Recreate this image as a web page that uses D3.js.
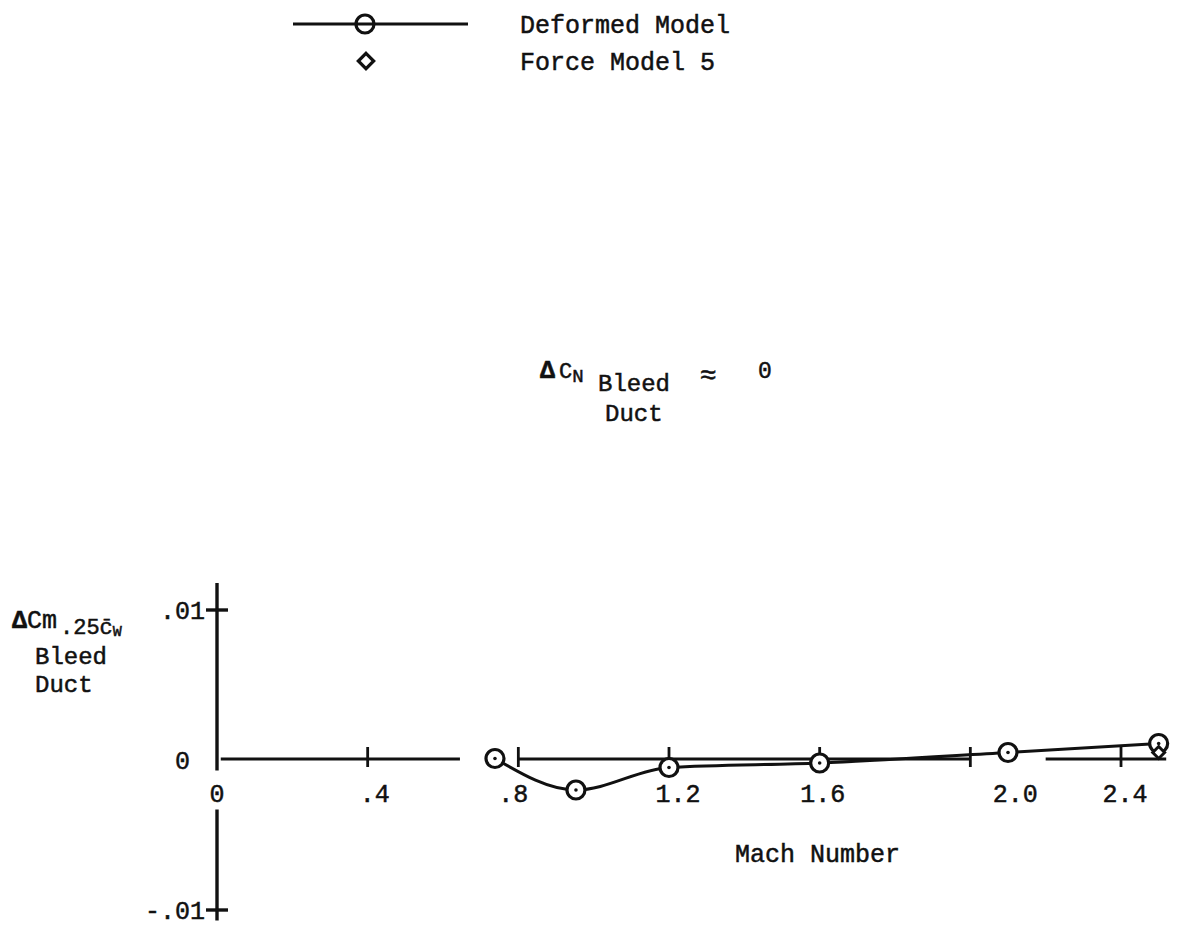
<!DOCTYPE html>
<html><head><meta charset="utf-8">
<script src="https://cdn.jsdelivr.net/npm/d3@7"></script>
<style>
body{margin:0;background:#fff}
text{font-family:"Liberation Mono","DejaVu Sans Mono",monospace;fill:#111;stroke:#111;stroke-width:0.5}
</style>
</head><body>
<svg id="c" width="1177" height="936"></svg>
<script>
// ---- data ----
const machDeformed = [0.738, 0.953, 1.20, 1.60, 2.10, 2.50];
const cmDeformed   = [0.0001, -0.0020, -0.0005, -0.0002, 0.0005, 0.0011];
const machForce5   = [2.50];
const cmForce5     = [0.0005];
const xTickValues  = [0, 0.4, 0.8, 1.2, 1.6, 2.0, 2.4];
const xTickLabels  = ["0", ".4", ".8", "1.2", "1.6", "2.0", "2.4"];
const yTickValues  = [0.01, 0, -0.01];
const yTickLabels  = [".01", "0", "-.01"];
const seriesNames  = ["Deformed Model", "Force Model 5"];

// ---- layout ----
const svg = d3.select("#c");
const x = d3.scaleLinear().domain([0, 2.4]).range([217, 1121]);
const y = d3.scaleLinear().domain([-0.01, 0.01]).range([910, 610]);
const ink = "#111";
const labelShift = [0, 7, -5, 9, 3, 45, 4];

// y axis (drawn in two pieces around the "0" label)
const yAxisPieces = [[0.0118, -0.0007], [-0.0033, -0.0107]];
svg.selectAll(".yax").data(yAxisPieces).join("line")
  .attr("x1", x(0)).attr("x2", x(0))
  .attr("y1", d => y(d[0])).attr("y2", d => y(d[1]))
  .attr("stroke", ink).attr("stroke-width", 3.4);
svg.selectAll(".ytk").data(yTickValues.filter(v => v !== 0)).join("line")
  .attr("x1", x(0) - 11).attr("x2", x(0) + 11)
  .attr("y1", d => y(d)).attr("y2", d => y(d))
  .attr("stroke", ink).attr("stroke-width", 3.4);
svg.selectAll(".ytl").data(yTickValues).join("text")
  .attr("x", d => d === 0 ? 190 : 205)
  .attr("y", d => y(d) + 9)
  .attr("text-anchor", "end")
  .attr("font-size", 25)
  .text((d, i) => yTickLabels[i]);

// x axis pieces
const xAxisPieces = [[0.01, 0.645], [0.8, 2.0], [2.2, 2.52]];
svg.selectAll(".xax").data(xAxisPieces).join("line")
  .attr("x1", d => x(d[0])).attr("x2", d => x(d[1]))
  .attr("y1", y(0) - 1).attr("y2", y(0) - 1)
  .attr("stroke", ink).attr("stroke-width", 3.2);
svg.selectAll(".xtk").data(xTickValues.filter(v => v > 0)).join("line")
  .attr("x1", d => x(d)).attr("x2", d => x(d))
  .attr("y1", y(0) - 13).attr("y2", y(0) + 7)
  .attr("stroke", ink).attr("stroke-width", 2.8);
svg.selectAll(".xtl").data(xTickValues).join("text")
  .attr("x", (d, i) => x(d) + labelShift[i])
  .attr("y", y(0) + 42)
  .attr("text-anchor", "middle")
  .attr("font-size", 25)
  .text((d, i) => xTickLabels[i]);

// x title
svg.append("text").attr("x", 735).attr("y", 862).attr("font-size", 25).text("Mach Number");

// y title (separate pieces)
const yt = svg.append("text").attr("x", 12).attr("y", 628).attr("font-size", 25);
yt.append("tspan").attr("font-weight", "bold").text("\u0394");
yt.append("tspan").text("Cm");
const ys = svg.append("text").attr("x", 60).attr("y", 634).attr("font-size", 22);
ys.append("tspan").text(".25c\u0304");
ys.append("tspan").attr("dy", 2).attr("font-size", 15).text("W");
svg.append("text").attr("x", 35).attr("y", 664).attr("font-size", 24).text("Bleed");
svg.append("text").attr("x", 35).attr("y", 692).attr("font-size", 24).text("Duct");

// header formula (separate pieces)
const ht = svg.append("text").attr("x", 540).attr("y", 378).attr("font-size", 25);
ht.append("tspan").attr("font-weight", "bold").text("\u0394");
ht.append("tspan").attr("dx", 4).attr("font-size", 22).text("C");
ht.append("tspan").attr("dy", 4).attr("font-size", 19).text("N");
svg.append("text").attr("x", 598).attr("y", 391).attr("font-size", 24).text("Bleed");
svg.append("text").attr("x", 700).attr("y", 384).attr("font-size", 28).text("\u2248");
svg.append("text").attr("x", 758).attr("y", 378).attr("font-size", 23).attr("stroke-width", 0.2).text("0");
svg.append("text").attr("x", 605).attr("y", 421).attr("font-size", 24).text("Duct");

// ---- data line ----
const pts = machDeformed.map((m, i) => [m, cmDeformed[i]]);
const line = d3.line().x(d => x(d[0])).y(d => y(d[1])).curve(d3.curveMonotoneX);
svg.append("path").attr("d", line(pts))
  .attr("fill", "none").attr("stroke", ink).attr("stroke-width", 3);

svg.selectAll(".pt").data(pts).join("circle")
  .attr("cx", d => x(d[0])).attr("cy", d => y(d[1])).attr("r", 9)
  .attr("fill", "#fff").attr("stroke", ink).attr("stroke-width", 3.2);
svg.selectAll(".pd").data(pts).join("circle")
  .attr("cx", d => x(d[0])).attr("cy", d => y(d[1])).attr("r", 1.8)
  .attr("fill", ink);

const diamond = d3.symbol().type(d3.symbolDiamond2 || d3.symbolDiamond).size(90);
svg.selectAll(".fm").data(machForce5.map((m, i) => [m, cmForce5[i]])).join("path")
  .attr("d", diamond)
  .attr("transform", d => `translate(${x(d[0])},${y(d[1])})`)
  .attr("fill", "#fff").attr("stroke", ink).attr("stroke-width", 3);

// ---- legend ----
svg.append("line").attr("x1", 293).attr("x2", 468).attr("y1", 24).attr("y2", 24)
  .attr("stroke", ink).attr("stroke-width", 3);
svg.append("circle").attr("cx", 365).attr("cy", 24).attr("r", 9)
  .attr("fill", "none").attr("stroke", ink).attr("stroke-width", 3.2);
svg.append("path").attr("d", d3.symbol().type(d3.symbolDiamond2 || d3.symbolDiamond).size(150))
  .attr("transform", "translate(366,61)")
  .attr("fill", "none").attr("stroke", ink).attr("stroke-width", 3.2);
svg.selectAll(".lg").data(seriesNames).join("text")
  .attr("x", 520).attr("y", (d, i) => 33 + i * 37)
  .attr("font-size", 25).text(d => d);
</script>
</body></html>
